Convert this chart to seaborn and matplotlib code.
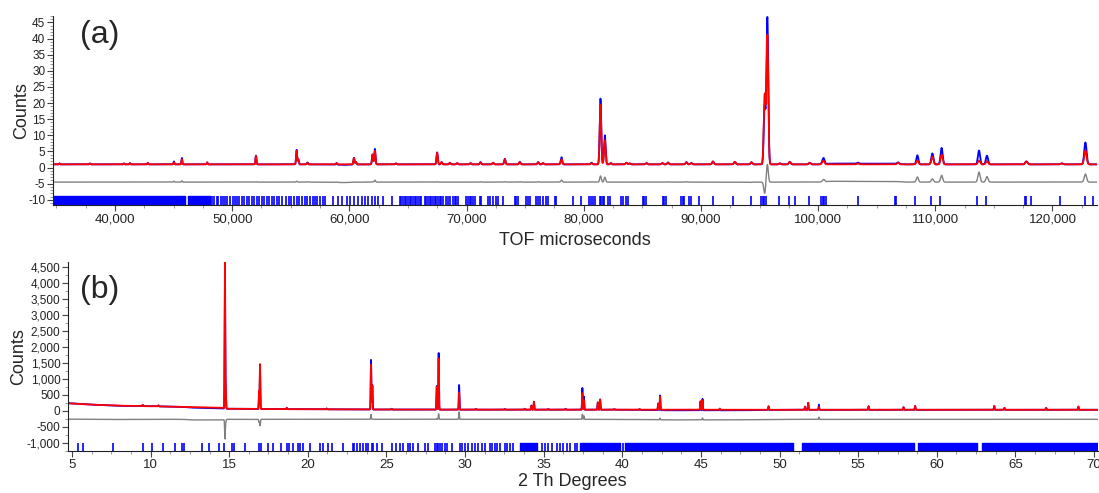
import numpy as np
import seaborn as sns
import matplotlib.pyplot as plt
from matplotlib.ticker import MultipleLocator, FuncFormatter

# ---------------- panel (a): TOF data ----------------
# peak positions (microseconds), calculated and observed heights above background
tof_peaks = [35270, 37870, 40770, 41280, 42790, 45030, 45710, 47870, 52030, 55500,
             55650, 56430, 58910, 60390, 60560, 61980, 62180, 63970, 67490, 67870,
             68580, 69200, 70340, 71190, 72270, 73270, 74550, 76110, 76530, 78100,
             80660, 81430, 81800, 82310, 83650, 83930, 85350, 86710, 87190, 88760,
             89180, 91030, 92890, 94310, 95440, 95670, 96730, 97580, 99290, 100370,
             100480, 103410, 106820, 108470, 109750, 110540, 113730, 114410, 117770,
             120810, 122810]
tof_calc = [0.3, 0.3, 0.3, 0.4, 0.5, 0.6, 1.6, 0.6, 2.6, 4.2,
            1.5, 0.5, 0.4, 2.0, 0.8, 3.0, 4.2, 0.3, 3.6, 0.7,
            0.5, 0.4, 0.4, 0.6, 0.5, 1.6, 0.7, 0.6, 0.4, 1.6,
            0.4, 18.5, 7.5, 0.4, 0.5, 0.3, 0.4, 0.4, 0.5, 0.6,
            0.4, 0.9, 0.8, 0.7, 21.5, 40.0, 0.3, 0.8, 0.5, 0.5,
            0.9, 0.3, 0.5, 1.2, 2.4, 3.0, 1.2, 1.0, 0.9,
            0.3, 4.3]
tof_obs = [0.3, 0.3, 0.3, 0.4, 0.5, 0.9, 2.0, 0.6, 2.7, 4.5,
           1.5, 0.6, 0.5, 2.1, 0.8, 3.1, 4.8, 0.3, 3.7, 0.7,
           0.5, 0.4, 0.4, 0.7, 0.5, 1.7, 0.8, 0.7, 0.4, 2.2,
           0.5, 20.4, 9.0, 0.4, 0.5, 0.3, 0.4, 0.4, 0.6, 0.7,
           0.4, 0.9, 0.8, 0.6, 18.0, 45.5, 0.3, 0.8, 0.5, 0.6,
           1.6, 0.3, 0.5, 2.8, 3.4, 5.1, 4.3, 2.7, 0.9,
           0.3, 6.8]
tof_bg_x = [34711, 58000, 59500, 61000, 100000, 101000, 106500, 107500, 123800]
tof_bg_calc = [1.0, 1.0, 1.0, 1.0, 1.0, 1.0, 1.0, 1.0, 1.0]
tof_bg_obs = [1.0, 1.0, 0.85, 1.0, 1.0, 1.25, 1.2, 1.0, 1.0]

tof_refl_bands = [(34711, 45970), (46200, 48150)]
tof_refl = [48240, 48440, 48670, 48810, 49010, 49240, 49380, 49580, 49810, 50040,
            50230, 50380, 50600, 50800, 51000, 51230, 51430, 51660, 51850, 52080,
            52310, 52510, 52710, 52940, 53130, 53360, 53560, 53790, 54020, 54210,
            54580, 54810, 55040, 55270, 55490, 55720, 55950, 56200, 56400, 56630,
            56860, 57060, 57280, 57480, 57710, 57940, 58620, 59050, 59330, 59760,
            60040, 60380, 60750, 61040, 61320, 61610, 61890, 62170, 62460, 62890,
            63600, 64310, 64440, 64580, 64720, 64870, 65000, 65150, 65290, 65430,
            65580, 65720, 65860, 66000, 66150, 66430, 66570, 66710, 66850, 67000,
            67140, 67280, 67420, 67560, 67700, 67850, 67990, 68280, 68420, 68560,
            68840, 68990, 69130, 69270, 69980, 70120, 70260, 70410, 70550, 70690,
            71120, 71260, 71830, 71970, 72250, 72540, 72680, 73100, 74100, 74240,
            74380, 75100, 75240, 75380, 75950, 76090, 76230, 76510, 76800, 76940,
            77510, 77650, 79070, 79780, 80490, 80640, 80780, 80920, 81350, 81490,
            81630, 81770, 82060, 82200, 83200, 83330, 83620, 83760, 85040, 85180,
            85320, 86740, 86890, 87030, 88310, 88450, 88590, 89020, 89160, 89870,
            91000, 92710, 94250, 95130, 95270, 95410, 95550, 96630, 97480, 98050,
            99190, 100240, 100380, 100530, 100670, 103370, 106580, 106690, 108280,
            109620, 110410, 113600, 114310, 117630, 117770, 118200, 120640, 122750,
            123480]

# ---------------- panel (b): 2-theta data ----------------
tth_peaks = [9.50, 10.50, 14.73, 14.78, 16.90, 16.96, 18.66, 21.20, 24.02, 24.10,
             25.34, 28.20, 28.32, 29.62, 30.70, 32.54, 33.80, 34.22, 34.38, 35.30,
             36.40, 37.46, 37.56, 38.44, 38.59, 39.50, 41.10, 42.28, 42.40, 44.97,
             45.10, 46.20, 49.30, 51.62, 51.82, 52.50, 55.66, 57.88, 58.62, 63.65,
             64.30, 66.95, 69.00]
tth_calc = [40, 30, 4550, 600, 550, 1400, 40, 25, 1400, 750,
            25, 720, 1600, 540, 25, 20, 30, 130, 250, 20,
            30, 520, 300, 230, 320, 20, 25, 200, 410, 270,
            300, 40, 110, 100, 220, 90, 110, 80, 120, 120,
            60, 60, 100]
tth_obs = [40, 30, 3950, 500, 450, 1200, 40, 25, 1550, 760,
           25, 740, 1770, 770, 25, 20, 30, 130, 250, 20,
           30, 680, 410, 230, 320, 20, 25, 200, 460, 270,
           360, 40, 110, 100, 220, 160, 110, 80, 120, 120,
           60, 60, 100]
tth_bg_x = [4.75, 6, 8, 10, 12, 12.6, 14.5, 14.9, 17, 20, 25, 30, 40, 43, 47.5, 50, 60, 70.25]
tth_bg_calc = [240, 205, 165, 150, 130, 125, 105, 70, 62, 55, 45, 42, 40, 40, 38, 38, 38, 38]
tth_bg_obs = [245, 205, 160, 150, 130, 105, 85, 70, 62, 55, 45, 42, 40, 22, 22, 36, 36, 38]

tth_refl_bands = [(33.50, 34.56), (37.30, 39.85), (40.18, 50.88), (51.42, 58.55),
                  (58.82, 62.55), (62.88, 70.25)]
tth_refl = [5.40, 5.72, 7.63, 9.50, 10.07, 10.77, 11.55, 11.98, 12.12, 13.25,
            13.72, 14.37, 14.69, 15.16, 15.31, 16.01, 16.92, 17.02, 17.49, 17.81,
            18.28, 18.66, 18.83, 19.04, 19.40, 19.50, 19.71, 20.14, 20.78, 20.99,
            21.30, 21.52, 22.26, 22.86, 22.96, 23.11, 23.32, 23.53, 23.70, 23.85,
            24.06, 24.17, 24.38, 24.70, 25.34, 25.61, 25.87, 26.08, 26.39, 26.50,
            26.71, 27.03, 27.45, 27.67, 28.09, 28.20, 28.30, 28.41, 28.51, 28.73,
            28.87, 29.15, 29.68, 29.79, 30.00, 30.21, 30.42, 30.63, 30.85, 31.06,
            31.27, 31.59, 31.70, 31.91, 32.01, 32.23, 32.54, 32.65, 32.86, 33.07,
            34.88, 35.09, 35.30, 35.51, 35.83, 36.04, 36.25, 36.47, 36.68, 37.00,
            37.10, 40.02]


def profile(x, pos, amp, fwhm):
    y = np.zeros_like(x)
    for p, a, w in zip(pos, amp, fwhm):
        y += a * np.exp(-4 * np.log(2) * ((x - p) / w) ** 2)
    return y


sns.set_style("ticks")
plt.rcParams['font.family'] = ['Liberation Sans', 'DejaVu Sans']

fig = plt.figure(figsize=(10.99, 4.93), dpi=100)
ax_a = fig.add_axes([53 / 1099, 288 / 493, 1044 / 1099, 189 / 493])
ax_b = fig.add_axes([68 / 1099, 42 / 493, 1030 / 1099, 189 / 493])

BLUE = '#0000ff'
RED = '#ff0000'
GREY = '#808080'

# --- panel (a)
xa = np.linspace(34711, 123800, 30000)
wa = [0.0019 * p for p in tof_peaks]
calc_a = np.interp(xa, tof_bg_x, tof_bg_calc) + profile(xa, tof_peaks, tof_calc, wa)
obs_a = np.interp(xa, tof_bg_x, tof_bg_obs) + profile(xa, tof_peaks, tof_obs, wa)
diff_a = obs_a - calc_a - 4.5

sns.lineplot(x=xa, y=obs_a, color=BLUE, lw=1.3, estimator=None, ax=ax_a)
sns.lineplot(x=xa, y=calc_a, color=RED, lw=1.3, estimator=None, ax=ax_a)
sns.lineplot(x=xa, y=diff_a, color=GREY, lw=1.0, estimator=None, ax=ax_a)
ax_a.vlines(tof_refl, -8.8, -11.6, color=BLUE, lw=1.2)
ax_a.broken_barh([(s, e - s) for s, e in tof_refl_bands], (-11.6, 2.8), color=BLUE)

ax_a.set_xlim(34711, 123800)
ax_a.set_ylim(-11.6, 47)
ax_a.xaxis.set_major_locator(MultipleLocator(10000))
ax_a.xaxis.set_minor_locator(MultipleLocator(2500))
ax_a.yaxis.set_major_locator(MultipleLocator(5))
ax_a.yaxis.set_minor_locator(MultipleLocator(1))
ax_a.set_xlabel('TOF microseconds', fontsize=13)
ax_a.set_ylabel('Counts', fontsize=13)
ax_a.xaxis.set_label_coords(0.5, -0.145)
ax_a.yaxis.set_label_coords(-0.022, 0.5)
ax_a.text(0.045, 0.90, '(a)', transform=ax_a.transAxes, fontsize=23,
          ha='center', va='center')

# --- panel (b)
xb = np.linspace(4.75, 70.25, 60000)
wb = [0.045] * len(tth_peaks)
calc_b = np.interp(xb, tth_bg_x, tth_bg_calc) + profile(xb, tth_peaks, tth_calc, wb)
obs_b = np.interp(xb, tth_bg_x, tth_bg_obs) + profile(xb, tth_peaks, tth_obs, wb)
diff_b = obs_b - calc_b - 260

sns.lineplot(x=xb, y=obs_b, color=BLUE, lw=1.3, estimator=None, ax=ax_b)
sns.lineplot(x=xb, y=calc_b, color=RED, lw=1.3, estimator=None, ax=ax_b)
sns.lineplot(x=xb, y=diff_b, color=GREY, lw=1.0, estimator=None, ax=ax_b)
ax_b.vlines(tth_refl, -1010, -1250, color=BLUE, lw=1.2)
ax_b.broken_barh([(s, e - s) for s, e in tth_refl_bands], (-1250, 240), color=BLUE)

ax_b.set_xlim(4.75, 70.25)
ax_b.set_ylim(-1250, 4656)
ax_b.xaxis.set_major_locator(MultipleLocator(5))
ax_b.xaxis.set_minor_locator(MultipleLocator(1.25))
ax_b.yaxis.set_major_locator(MultipleLocator(500))
ax_b.yaxis.set_minor_locator(MultipleLocator(250))
ax_b.set_xlabel('2 Th Degrees', fontsize=13)
ax_b.set_ylabel('Counts', fontsize=13)
ax_b.xaxis.set_label_coords(0.49, -0.118)
ax_b.yaxis.set_label_coords(-0.040, 0.5)
ax_b.text(0.031, 0.85, '(b)', transform=ax_b.transAxes, fontsize=23,
          ha='center', va='center')

fmt = FuncFormatter(lambda v, p: '{:,.0f}'.format(v))
for ax in (ax_a, ax_b):
    ax.xaxis.set_major_formatter(fmt)
    ax.yaxis.set_major_formatter(fmt)
    sns.despine(ax=ax)
    ax.spines['left'].set_color('#222222')
    ax.spines['bottom'].set_color('#222222')
    ax.tick_params(which='major', length=4, width=0.8, color='#444444',
                   labelcolor='#222222', pad=2)
    ax.tick_params(axis='x', which='major', labelsize=9.5)
    ax.tick_params(axis='y', which='major', labelsize=8.5, pad=1.5)
    ax.tick_params(which='minor', length=2, width=0.6, color='#888888')

fig.savefig('out.png', dpi=100)
